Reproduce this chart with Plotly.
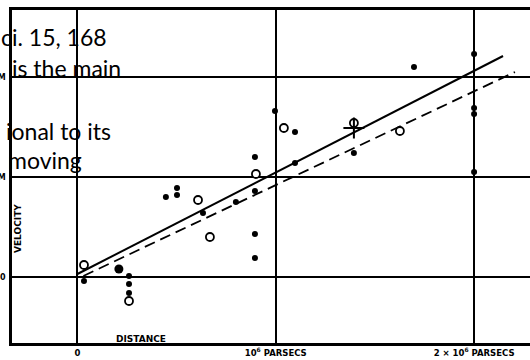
import plotly.graph_objects as go

# Distances in units of 10^6 parsecs, velocities in km/s
filled_dist = [0.033, 0.26, 0.26, 0.26, 0.446, 0.502, 0.502, 0.633, 0.799, 0.895,
               0.895, 0.895, 0.996, 1.097, 0.895, 1.097, 1.394, 1.697, 2.0, 2.0, 2.0, 2.0]
filled_vel = [-20, 5, -35, -80, 400, 445, 410, 320, 375, 430,
              215, 95, 830, 725, 600, 570, 620, 1050, 1115, 845, 815, 525]
large_dist = [0.209]
large_vel = [40]
open_dist = [0.033, 0.26, 0.608, 0.668, 0.9, 1.041, 1.626, 1.394]
open_vel = [60, -120, 385, 200, 515, 745, 730, 770]
cross_dist = [1.394]
cross_vel = [745]

solid_dist = [0.0, 2.146]
solid_vel = [15, 1105]
dashed_dist = [0.03, 2.206]
dashed_vel = [5, 1025]

x_ticks = [0, 1, 2]
x_ticktext = ["0", "10<sup>6</sup> PARSECS", "2 \u00d7 10<sup>6</sup> PARSECS"]
y_ticks = [0, 500, 1000]
y_ticktext = ["0", "500 KM", "1000 KM"]

overlay_lines = ["ci. 15, 168", "is the main", "ional to its", "moving"]

W, H = 530, 360
ML, MR, MT, MB = 12, 0, 10, 17
PW, PH = W - ML - MR, H - MT - MB


def px(xp):
    return (xp - ML) / PW


def py(yp):
    return (H - MB - yp) / PH


fig = go.Figure()
fig.add_trace(go.Scatter(x=solid_dist, y=solid_vel, mode="lines",
                         line=dict(color="black", width=2), hoverinfo="skip"))
fig.add_trace(go.Scatter(x=dashed_dist, y=dashed_vel, mode="lines",
                         line=dict(color="black", width=1.8, dash="11px,6px"), hoverinfo="skip"))
fig.add_trace(go.Scatter(x=filled_dist, y=filled_vel, mode="markers",
                         marker=dict(color="black", size=6, line=dict(width=0))))
fig.add_trace(go.Scatter(x=large_dist, y=large_vel, mode="markers",
                         marker=dict(color="black", size=9, line=dict(width=0))))
fig.add_trace(go.Scatter(x=open_dist, y=open_vel, mode="markers",
                         marker=dict(color="white", size=8, line=dict(color="black", width=1.8))))
fig.add_trace(go.Scatter(x=cross_dist, y=cross_vel, mode="markers",
                         marker=dict(symbol="cross-thin", size=15, color="black",
                                     line=dict(color="black", width=2))))

lab_font = dict(family="DejaVu Sans", size=9, color="black")
fig.update_xaxes(range=[-0.33, 2.282], tickvals=x_ticks, ticktext=x_ticktext,
                 showgrid=True, gridcolor="black", gridwidth=1.5, zeroline=False,
                 showline=True, linecolor="black", linewidth=2.5, mirror=True,
                 automargin=False, ticks="", ticklabelstandoff=0,
                 tickfont=dict(family="DejaVu Sans", size=8.5, color="black", weight="bold"))
fig.update_yaxes(range=[-330, 1335], tickvals=y_ticks, ticktext=y_ticktext,
                 showgrid=True, gridcolor="black", gridwidth=1.5, zeroline=False,
                 showline=True, linecolor="black", linewidth=2.5, mirror=False,
                 automargin=False, ticks="", ticklabelstandoff=2,
                 tickfont=dict(family="DejaVu Sans", size=8, color="black", weight="bold"))

annotations = [
    dict(text="<b>VELOCITY</b>", x=px(18), y=py(229), xref="paper", yref="paper",
         textangle=-90, showarrow=False, font=lab_font, xanchor="center", yanchor="middle"),
    dict(text="<b>DISTANCE</b>", x=px(141), y=py(339), xref="paper", yref="paper",
         showarrow=False, font=dict(family="DejaVu Sans", size=9, color="black"),
         xanchor="center", yanchor="middle"),
]
ov_right = [109, 123, 113, 84]
ov_center = [37, 68, 131, 160]
for t, xr, yc in zip(overlay_lines, ov_right, ov_center):
    annotations.append(dict(text=t, x=px(xr), y=py(yc), xref="paper", yref="paper",
                            showarrow=False, xanchor="right", yanchor="middle",
                            font=dict(family="Lato", size=23, color="black")))

fig.update_layout(width=W, height=H, margin=dict(l=ML, r=MR, t=MT, b=MB, pad=0),
                  plot_bgcolor="white", paper_bgcolor="white", showlegend=False,
                  annotations=annotations)

fig.write_html("out.html")
